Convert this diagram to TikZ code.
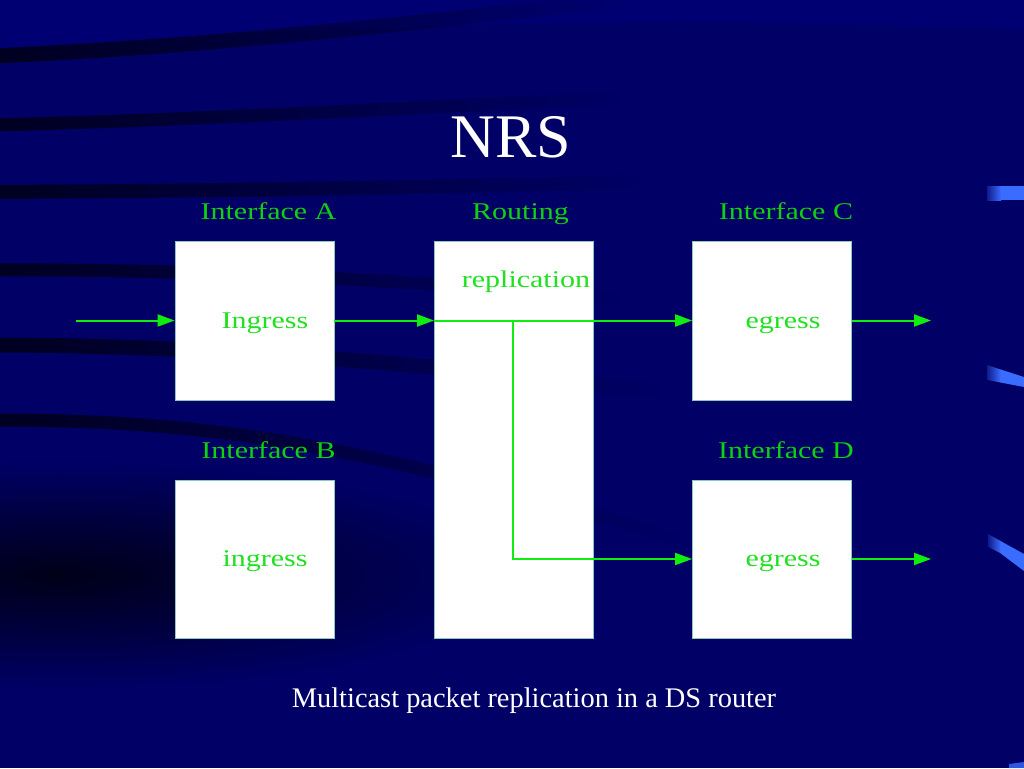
\documentclass[tikz,border=0pt]{standalone}
\usepackage{fontspec}
\setmainfont{Liberation Serif}
\newfontfamily\batfont[FakeStretch=1.25]{Liberation Serif}
\usetikzlibrary{arrows.meta,fadings}
\definecolor{bgblue}{HTML}{000066}
\definecolor{bgdark}{HTML}{000018}
\definecolor{bglight}{HTML}{00007C}
\definecolor{lblgreen}{HTML}{10D010}
\definecolor{txtgreen}{HTML}{20E020}
\definecolor{arrgreen}{HTML}{10EE10}
\definecolor{boxedge}{HTML}{8CC8BE}
\definecolor{barblue}{HTML}{3A6CFF}
\tikzfading[name=fadeR, left color=transparent!0, right color=transparent!100]
\tikzset{
  blk/.style={draw=boxedge, line width=0.8pt, fill=white, minimum width=159pt, inner sep=0pt},
  ifl/.style={text=lblgreen, font=\batfont\fontsize{24}{28}\selectfont, inner sep=0pt, anchor=base},
  intxt/.style={text=txtgreen, font=\batfont\fontsize{24}{28}\selectfont, inner sep=0pt, anchor=base},
  flow/.style={draw=arrgreen, line width=2pt, -{Triangle[length=17pt,width=12pt]}},
  band/.style={draw=bgdark, line cap=butt, path fading=fadeR},
  rfade/.style={left color=barblue!25!bgblue, right color=barblue}
}
\begin{document}
\begin{tikzpicture}[x=1pt,y=-1pt]
\useasboundingbox (0,0) rectangle (1024,768);
% background
\fill[bgblue] (0,0) rectangle (1024,768);
\fill[bglight, opacity=0.6] (0,0) -- (1024,0) -- (1024,30) .. controls (800,20) and (450,15) .. (0,48) -- cycle;
\draw[band, line width=15pt, opacity=0.9] (-10,56) .. controls (200,48) and (420,22) .. (640,-2);
\draw[band, line width=13pt, opacity=0.9] (-10,125) .. controls (200,120) and (400,108) .. (620,98);
\draw[band, line width=14pt, opacity=0.9] (-10,192) .. controls (200,191) and (400,188) .. (640,182);
\draw[band, line width=13pt, opacity=0.9] (-10,270) .. controls (200,269) and (400,280) .. (620,298);
\draw[band, line width=15pt, opacity=0.9] (-10,345) .. controls (200,345) and (420,362) .. (660,392);
\draw[band, line width=13pt, opacity=0.9] (-10,420) .. controls (200,420) and (350,440) .. (680,540);
\shade[inner color=bgdark, outer color=bgblue] (60,575) ellipse [x radius=470pt, y radius=115pt];
% right-edge bars
\fill[rfade] (987,186) rectangle (1001,200);
\fill[barblue] (1000.5,186) rectangle (1024,200);
\fill[rfade] (987,365) -- (1001,369.6) -- (1001,382.6) -- (987,380) -- cycle;
\fill[barblue] (1000.5,369.4) -- (1024,377) -- (1024,387) -- (1000.5,382.5) -- cycle;
\fill[rfade] (988,534) -- (1001,541.2) -- (1001,553.5) -- (988,547) -- cycle;
\fill[barblue] (1000.5,541) -- (1024,554) -- (1024,571) -- (1000.5,553.3) -- cycle;
\fill[barblue, opacity=0.8] (1009,764) -- (1024,762) -- (1024,768) -- (1009,768) -- cycle;
% title and caption
\node[text=white, font=\fontsize{62}{70}\selectfont, inner sep=0pt, anchor=base] (title) at (511,157) {NRS};
\node[text=white, font=\fontsize{28.4}{32}\selectfont, inner sep=0pt, anchor=base] (cap) at (534,707) {Multicast packet replication in a DS router};
% blocks
\node[blk, minimum height=159pt] (A) at (254.5,320.5) {};
\node[blk, minimum height=158pt] (B) at (254.5,559) {};
\node[blk, minimum height=397pt] (R) at (513.5,439.5) {};
\node[blk, minimum height=159pt] (C) at (772,320.5) {};
\node[blk, minimum height=158pt] (D) at (772,559) {};
% labels
\node[ifl] (lA) at (268.5,219) {Interface A};
\node[ifl] (lR) at (520.5,219) {Routing};
\node[ifl] (lC) at (786,219) {Interface C};
\node[ifl] (lB) at (268.5,458) {Interface B};
\node[ifl] (lD) at (786,458) {Interface D};
\node[intxt] (tA) at (265,328) {Ingress};
\node[intxt] (tR) at (526,287) {replication};
\node[intxt] (tC) at (783,328) {egress};
\node[intxt] (tB) at (265,566) {ingress};
\node[intxt] (tD) at (783,566) {egress};
% connector points
\coordinate (src) at (76,320.5);
\coordinate (rin) at (434,320.5);
\coordinate (br) at (513,320.5);
\coordinate (outC) at (931,320.5);
\coordinate (outD) at (931,559);
% connectors
\draw[flow] (src) -- (A.west);
\draw[flow] (A.east) -- (rin);
\draw[flow] (rin) -- (C.west);
\draw[flow] (br) |- (D.west);
\draw[flow] (C.east) -- (outC);
\draw[flow] (D.east) -- (outD);
\end{tikzpicture}
\end{document}
